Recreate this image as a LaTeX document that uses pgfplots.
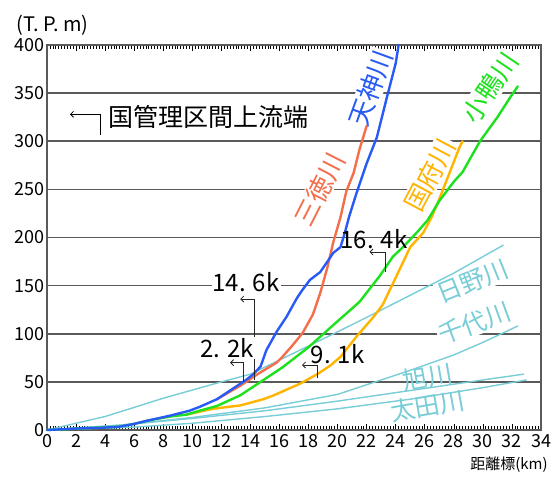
\documentclass[border=0pt]{standalone}
\usepackage{fontspec}
\setmainfont{Noto Sans CJK JP}
\usepackage{pgfplots}
\pgfplotsset{compat=1.18}
\usetikzlibrary{arrows.meta}
\definecolor{tblue}{RGB}{40,90,245}
\definecolor{sorange}{RGB}{245,110,75}
\definecolor{kgreen}{RGB}{30,225,30}
\definecolor{kyellow}{RGB}{255,180,0}
\definecolor{cyanl}{RGB}{120,205,215}
\definecolor{gridc}{RGB}{90,90,90}
\newcommand{\fs}[1]{\fontsize{#1bp}{#1bp}\selectfont}
\begin{document}
\begin{tikzpicture}
\path[use as bounding box] (-47bp,-55bp) rectangle (506bp,430bp);
\begin{axis}[
  at={(0,0)}, anchor=south west,
  scale only axis, width=494bp, height=385bp,
  xmin=0, xmax=34, ymin=0, ymax=400,
  xtick={0,2,...,34}, ytick={0,50,...,400},
  minor x tick num=9,
  ymajorgrids, grid style={draw=gridc, line width=1.6bp},
  axis line style={draw=gridc, line width=2bp},
  tick align=inside,
  xtick style={draw=black, line width=0.6bp},
  major tick length=6bp, minor tick length=4bp,
  ytick style={draw=none},
  tick label style={font=\fs{18}},
  /pgf/number format/assume math mode=true,
  yticklabel style={xshift=1bp},
  xticklabel style={yshift=-1bp},
  clip=false,
  every axis plot/.append style={line join=round, line cap=round},
]
% river labels
\node[rotate=70, text=tblue, fill=white, inner sep=1bp, font=\fs{26}] at (axis cs:22.3,355) {天神川};
\node[rotate=63, text=sorange, fill=white, inner sep=1bp, font=\fs{26}] at (axis cs:18.75,250) {三徳川};
\node[rotate=62, text=kyellow, fill=white, inner sep=1bp, font=\fs{26}] at (axis cs:26.35,265) {国府川};
\node[rotate=56, text=kgreen, fill=white, inner sep=1bp, font=\fs{26}] at (axis cs:30.5,356) {小鴨川};
\node[rotate=22, text=cyanl, fill=white, inner sep=1bp, font=\fs{25}] at (axis cs:29.3,154) {日野川};
\node[rotate=20, text=cyanl, fill=white, inner sep=1bp, font=\fs{25}] at (axis cs:29.4,111) {千代川};
\node[rotate=10, text=cyanl, inner sep=1bp, font=\fs{25}] at (axis cs:26.2,55) {旭川};
\node[rotate=10, text=cyanl, inner sep=1bp, font=\fs{25}] at (axis cs:26.2,25) {太田川};

% cyan rivers
\addplot[cyanl, line width=1.4bp] coordinates {(0,0) (4,14) (8,33) (12,50) (14,58) (17,80) (20,102) (22,117) (25,140) (28,163) (31.4,192)};
\addplot[cyanl, line width=1.4bp] coordinates {(0,0) (5,5) (10,13) (15,23) (20,37) (22.4,49) (25,62) (28,78) (30,91) (32.4,108)};
\addplot[cyanl, line width=1.4bp] coordinates {(0,0) (5,5) (10,12) (15,20) (20,30) (25,41) (30,52) (32.8,58)};
\addplot[cyanl, line width=1.4bp] coordinates {(0,0) (6,3) (10,7) (15,14) (20,22) (25,32) (30,44) (33,52)};

% 国府川
\addplot[kyellow, line width=2.4bp] coordinates {(9.6,16) (11.4,22) (13.3,25.5) (14.9,32) (15.6,36) (17.4,48) (18.6,58) (19.5,67) (20.2,76) (21.3,97) (22.5,118) (23.1,130) (23.8,152) (25.0,190) (25.9,205) (26.5,222) (27.0,240) (27.7,267) (28.4,294) (28.6,300)};
% 小鴨川
\addplot[kgreen, line width=2.4bp] coordinates {(0,0) (5,3.5) (5.9,6) (7,10) (8.5,14) (9.6,16) (10.5,20) (11.7,25) (13.3,36) (14.6,49) (16.2,65) (18.0,86) (19.7,109) (21.5,133) (22.9,160) (23.8,180) (24.5,190) (25.5,206) (26.2,218) (27.0,238) (28.0,258) (28.6,268) (29.8,300) (31.0,325) (31.9,346) (32.4,357)};
% 三徳川
\addplot[sorange, line width=2.4bp] coordinates {(11.7,32) (12.5,39) (13.3,46) (14.6,59) (15.8,70) (16.2,76) (16.9,88) (17.6,101) (18.3,120) (18.8,142) (19.3,169) (19.7,195) (20.2,221) (20.6,248) (21.1,267) (21.5,291) (22.0,316)};
% 天神川
\addplot[tblue, line width=2.4bp] coordinates {(0,0) (2,1.5) (4,2.5) (5,3.5) (5.9,6) (7,10) (8.5,15) (9.8,20) (10.5,24) (11.7,32) (12.8,43) (13.7,52) (14.2,58) (14.7,66) (15.1,83) (15.8,102) (16.5,118) (17.2,137) (17.6,146) (18.1,156) (18.8,164) (19.3,175) (19.7,184) (20.2,190) (20.5,205) (20.8,222) (21.3,246) (22.0,277) (22.7,304) (23.4,346) (24.0,381) (24.2,400)};

% km markers
\draw[gray!30!black, line width=0.8bp, -{Straight Barb[length=3bp]}] (axis cs:14.3,52) -- (axis cs:14.3,136) -- (axis cs:13.3,136);
\node[font=\fs{24}, fill=white, inner sep=1bp] at (axis cs:13.7,154) {14. 6k};
\draw[gray!30!black, line width=0.8bp, -{Straight Barb[length=3bp]}] (axis cs:13.5,50) -- (axis cs:13.5,70) -- (axis cs:12.6,70);
\node[font=\fs{24}, fill=white, inner sep=1bp] at (axis cs:12.4,85) {2. 2k};
\draw[gray!30!black, line width=0.8bp, -{Straight Barb[length=3bp]}] (axis cs:18.6,54) -- (axis cs:18.6,67.5) -- (axis cs:17.55,67.5);
\node[font=\fs{24}, inner sep=1bp] at (axis cs:20.0,79) {9. 1k};
\draw[gray!30!black, line width=0.8bp, -{Straight Barb[length=3bp]}] (axis cs:23.26,164) -- (axis cs:23.26,185) -- (axis cs:22.2,185);
\node[font=\fs{24}, inner sep=1bp] at (axis cs:22.5,198) {16. 4k};

% legend note
\draw[black, line width=0.8bp, -{Straight Barb[length=3bp]}] (axis cs:3.65,306.5) -- (axis cs:3.65,328) -- (axis cs:1.58,328);
\node[anchor=west, font=\fs{25}, inner sep=0pt] at (axis cs:4.2,325) {国管理区間上流端};

% unit labels
\node[font=\fs{20}] at (axis cs:0.4,420.8) {(T. P. m)};
\node[font=\fs{15}] at (axis cs:31.8,-36) {距離標(km)};
\end{axis}
\end{tikzpicture}
\end{document}
